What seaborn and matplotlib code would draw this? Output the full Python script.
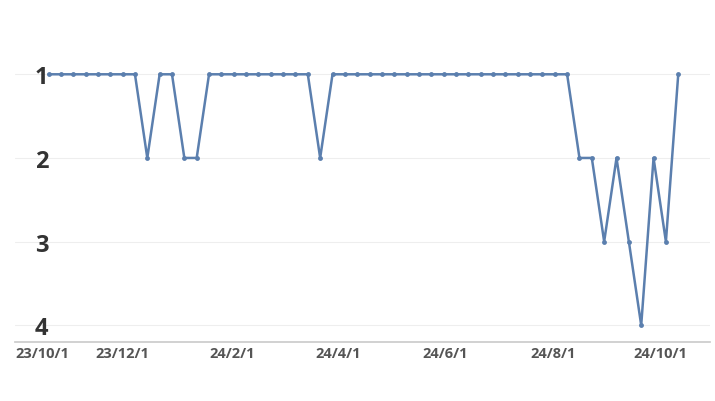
import matplotlib
matplotlib.use("Agg")
import matplotlib.pyplot as plt
import seaborn as sns
import pandas as pd

sns.set_theme(style="white")
plt.rcParams['font.family'] = ['Open Sans', 'DejaVu Sans']

dates = pd.date_range("2023-10-20", periods=52, freq="7D")
ranks = [1,1,1,1,1,1,1,1,2,1,1,2,2,1,1,1,1,1,1,1,1,1,2,1,1,1,1,1,1,1,1,1,1,1,1,1,1,1,1,1,1,1,1,
         2,2,3,2,3,4,2,3,1]
tick_dates = ["2023-10-01","2023-12-01","2024-02-01","2024-04-01","2024-06-01","2024-08-01","2024-10-01"]
tick_labels = ["23/10/1","23/12/1","24/2/1","24/4/1","24/6/1","24/8/1","24/10/1"]

df = pd.DataFrame({"date": dates, "rank": ranks})
fig = plt.figure(figsize=(7.15, 4.02), dpi=100)
ax = fig.add_axes([15/715, 59/402, 695/715, 343/402])
sns.lineplot(data=df, x="date", y="rank", ax=ax, color="#5b7fae", linewidth=1.8,
             marker="o", markersize=3.5, markeredgewidth=0)
ax.set_xlim(pd.Timestamp("2023-10-01"), pd.Timestamp("2024-10-29"))
ax.set_ylim(4.2, 0.1)
ax.set_yticks([1,2,3,4])
ax.set_yticklabels(["1","2","3","4"], fontsize=17, fontweight="bold", color="#333333")
ax.set_xticks(pd.to_datetime(tick_dates))
ax.set_xticklabels(tick_labels, fontsize=10.5, fontweight="bold", color="#555555")
ax.get_xticklabels()[0].set_horizontalalignment("left")
ax.tick_params(axis="both", length=0)
ax.tick_params(axis="x", pad=3)
ax.tick_params(axis="y", pad=-24)
ax.grid(axis="y", color="#eeeeee", linewidth=0.8)
for s in ["top", "right", "left"]:
    ax.spines[s].set_visible(False)
ax.spines["bottom"].set_color("#cccccc")
ax.set_xlabel("")
ax.set_ylabel("")
fig.savefig("out.png", dpi=100)
